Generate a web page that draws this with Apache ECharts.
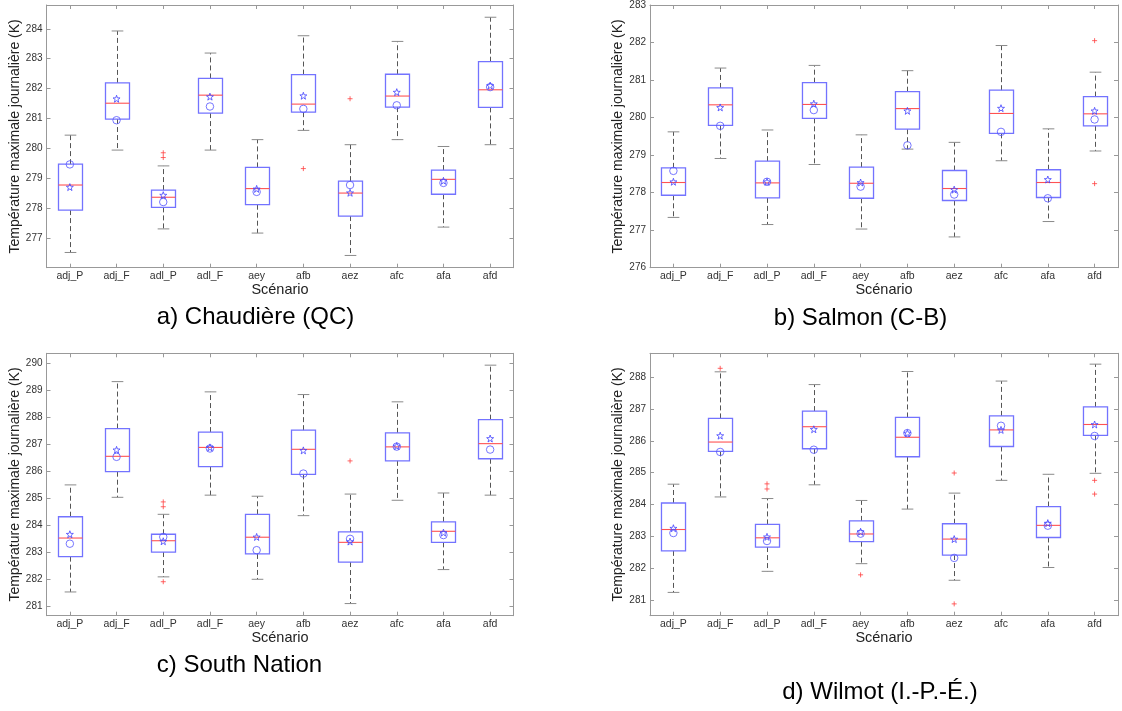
<!DOCTYPE html>
<html><head><meta charset="utf-8">
<script src="https://cdn.jsdelivr.net/npm/echarts@6/dist/echarts.min.js"></script>
<style>html,body{margin:0;padding:0;background:#fff}#c{width:1122px;height:711px}</style>
</head><body><div id="c"></div><script>
// ---------- DATA ----------
const categories = ['adj_P','adj_F','adl_P','adl_F','aey','afb','aez','afc','afa','afd'];

// [lower whisker, Q1, median, Q3, upper whisker]
const chaudiereBox = [
  [276.51, 277.93, 278.77, 279.47, 280.44],
  [279.94, 280.98, 281.51, 282.19, 283.93],
  [277.30, 278.02, 278.36, 278.60, 279.41],
  [279.94, 281.18, 281.78, 282.34, 283.19],
  [277.16, 278.11, 278.65, 279.36, 280.29],
  [280.60, 281.21, 281.48, 282.47, 283.77],
  [276.41, 277.73, 278.50, 278.90, 280.12],
  [280.29, 281.38, 281.75, 282.48, 283.58],
  [277.36, 278.46, 278.96, 279.27, 280.06],
  [280.12, 281.37, 281.96, 282.90, 284.39]
];
const chaudiereStar = [278.70, 281.66, 278.43, 281.73, 278.64, 281.76, 278.51, 281.88, 278.91, 282.10];
const chaudiereCircle = [279.46, 280.94, 278.20, 281.40, 278.54, 281.32, 278.77, 281.44, 278.84, 282.05];
const chaudiereOutliers = [[2, 279.69], [2, 279.85], [5, 279.32], [6, 281.66]];
const chaudiereTicks = [277, 278, 279, 280, 281, 282, 283, 284];

const salmonBox = [
  [277.34, 277.93, 278.27, 278.66, 279.62],
  [278.91, 279.79, 280.34, 280.79, 281.32],
  [277.15, 277.86, 278.26, 278.84, 279.67],
  [278.75, 279.98, 280.35, 280.93, 281.39],
  [277.03, 277.85, 278.25, 278.68, 279.54],
  [279.16, 279.69, 280.24, 280.69, 281.25],
  [276.82, 277.79, 278.11, 278.59, 279.34],
  [278.85, 279.58, 280.11, 280.73, 281.92],
  [277.23, 277.87, 278.27, 278.61, 279.70],
  [279.11, 279.78, 280.10, 280.56, 281.21]
];
const salmonStar = [278.29, 280.27, 278.29, 280.37, 278.27, 280.18, 278.08, 280.25, 278.35, 280.18];
const salmonCircle = [278.58, 279.78, 278.29, 280.20, 278.16, 279.26, 277.95, 279.62, 277.85, 279.95];
const salmonOutliers = [[9, 282.05], [9, 278.24]];
const salmonTicks = [276, 277, 278, 279, 280, 281, 282, 283];

const southNationBox = [
  [281.52, 282.83, 283.52, 284.31, 285.49],
  [285.03, 285.98, 286.55, 287.58, 289.32],
  [282.08, 283.00, 283.42, 283.66, 284.40],
  [285.11, 286.17, 286.88, 287.45, 288.94],
  [281.99, 282.93, 283.55, 284.40, 285.07],
  [284.35, 285.88, 286.81, 287.52, 288.84],
  [281.09, 282.63, 283.36, 283.75, 285.15],
  [284.92, 286.38, 286.90, 287.42, 288.57],
  [282.35, 283.36, 283.77, 284.12, 285.19],
  [285.11, 286.46, 287.02, 287.91, 289.93]
];
const southNationStar = [283.66, 286.79, 283.40, 286.88, 283.56, 286.77, 283.39, 286.93, 283.72, 287.21];
const southNationCircle = [283.31, 286.53, 283.56, 286.84, 283.07, 285.91, 283.49, 286.91, 283.63, 286.80];
const southNationOutliers = [[2, 284.86], [2, 284.68], [2, 281.90], [6, 286.38]];
const southNationTicks = [281, 282, 283, 284, 285, 286, 287, 288, 289, 290];

const wilmotBox = [
  [281.25, 282.55, 283.22, 284.05, 284.64],
  [284.24, 285.67, 285.96, 286.70, 288.16],
  [281.91, 282.67, 282.96, 283.38, 284.19],
  [284.62, 285.75, 286.44, 286.93, 287.76],
  [282.15, 282.84, 283.08, 283.49, 284.13],
  [283.86, 285.50, 286.11, 286.73, 288.17],
  [281.63, 282.42, 282.92, 283.40, 284.36],
  [284.76, 285.82, 286.34, 286.78, 287.87],
  [282.03, 282.97, 283.35, 283.94, 284.95],
  [284.98, 286.17, 286.51, 287.06, 288.40]
];
const wilmotStar = [283.26, 286.16, 282.99, 286.36, 283.15, 286.24, 282.92, 286.34, 283.42, 286.51];
const wilmotCircle = [283.11, 285.65, 282.86, 285.72, 283.09, 286.24, 282.33, 286.47, 283.34, 286.15];
const wilmotOutliers = [[1, 288.27], [2, 284.65], [2, 284.49], [4, 281.80], [6, 284.99], [6, 280.89], [9, 284.76], [9, 284.33]];
const wilmotTicks = [281, 282, 283, 284, 285, 286, 287, 288];

const captions = ['a) Chaudière (QC)', 'b) Salmon (C-B)', 'c) South Nation', 'd) Wilmot (I.-P.-É.)'];
const yAxisTitle = 'Température maximale journalière (K)';
const xAxisTitle = 'Scénario';

// ---------- LAYOUT ----------
const FONT = '"Liberation Sans", Arial, sans-serif';
const panels = [
  {box: chaudiereBox, star: chaudiereStar, circle: chaudiereCircle, out: chaudiereOutliers, ticks: chaudiereTicks,
   ymin: 276.0, ymax: 284.8, left: 46.5, top: 5, width: 467, height: 262.7, cap: [255.5, 317]},
  {box: salmonBox, star: salmonStar, circle: salmonCircle, out: salmonOutliers, ticks: salmonTicks,
   ymin: 276, ymax: 283, left: 650, top: 5, width: 468, height: 262.7, cap: [860.5, 318]},
  {box: southNationBox, star: southNationStar, circle: southNationCircle, out: southNationOutliers, ticks: southNationTicks,
   ymin: 280.64, ymax: 290.37, left: 46.5, top: 353.3, width: 467, height: 262.4, cap: [239.5, 665.5]},
  {box: wilmotBox, star: wilmotStar, circle: wilmotCircle, out: wilmotOutliers, ticks: wilmotTicks,
   ymin: 280.52, ymax: 288.74, left: 650, top: 353.3, width: 468, height: 262.4, cap: [880, 692]}
];

const AXIS_COLOR = '#999999';
const STAR = 'path://M10 0 L12.35 6.76 L19.51 6.91 L13.80 11.24 L15.88 18.09 L10 14 L4.12 18.09 L6.20 11.24 L0.49 6.91 L7.65 6.76 Z';
const PLUS = 'path://M5 0 L5 10 M0 5 L10 5';

function renderBox(params, api) {
  const x = api.value(0);
  const lo = api.coord([x, api.value(1)]);
  const q1 = api.coord([x, api.value(2)]);
  const md = api.coord([x, api.value(3)]);
  const q3 = api.coord([x, api.value(4)]);
  const hi = api.coord([x, api.value(5)]);
  const bw = api.size([1, 0])[0];
  const half = bw * 0.257;
  const capH = bw * 0.125;
  const cx = Math.round(lo[0]) + 0.5;
  const dash = {stroke: '#555', lineWidth: 1, lineDash: [5, 3]};
  const capS = {stroke: '#8a8a8a', lineWidth: 1};
  return {
    type: 'group',
    children: [
      {type: 'line', shape: {x1: cx, y1: q3[1], x2: cx, y2: hi[1]}, style: dash},
      {type: 'line', shape: {x1: cx, y1: q1[1], x2: cx, y2: lo[1]}, style: dash},
      {type: 'line', shape: {x1: cx - capH, y1: hi[1], x2: cx + capH, y2: hi[1]}, style: capS},
      {type: 'line', shape: {x1: cx - capH, y1: lo[1], x2: cx + capH, y2: lo[1]}, style: capS},
      {type: 'rect', shape: {x: cx - half, y: q3[1], width: 2 * half, height: q1[1] - q3[1]},
       style: {fill: 'rgba(0,0,0,0)', stroke: '#7373ff', lineWidth: 1.3}},
      {type: 'line', shape: {x1: cx - half, y1: md[1], x2: cx + half, y2: md[1]},
       style: {stroke: '#ff5252', lineWidth: 1.1}}
    ]
  };
}

const grid = [], xAxis = [], yAxis = [], series = [], graphic = [];
panels.forEach((p, i) => {
  grid.push({left: p.left, top: p.top, width: p.width, height: p.height, containLabel: false});
  const tickBase = {show: true, inside: true, length: 4, lineStyle: {color: AXIS_COLOR}};
  const lineBase = {show: true, onZero: false, lineStyle: {color: AXIS_COLOR, width: 1}};
  xAxis.push({
    type: 'category', gridIndex: i, data: categories, boundaryGap: true, position: 'bottom',
    axisLine: lineBase, axisTick: Object.assign({alignWithLabel: true}, tickBase),
    axisLabel: {color: '#333', fontSize: 10.5, fontFamily: FONT, margin: 3, interval: 0},
    splitLine: {show: false},
    name: xAxisTitle, nameLocation: 'middle', nameGap: 13,
    nameTextStyle: {color: '#222', fontSize: 14.5, fontFamily: FONT, verticalAlign: 'top'}
  });
  xAxis.push({
    type: 'category', gridIndex: i, data: categories, boundaryGap: true, position: 'top',
    axisLine: lineBase, axisTick: Object.assign({alignWithLabel: true}, tickBase),
    axisLabel: {show: false}, splitLine: {show: false}
  });
  yAxis.push({
    type: 'value', gridIndex: i, min: p.ymin, max: p.ymax, position: 'left',
    axisLine: lineBase,
    axisTick: Object.assign({customValues: p.ticks}, tickBase),
    axisLabel: {customValues: p.ticks, color: '#333', fontSize: 10, fontFamily: FONT, margin: 4},
    splitLine: {show: false},
    name: yAxisTitle, nameLocation: 'middle', nameGap: 23, nameRotate: 90,
    nameTextStyle: {color: '#222', fontSize: 14, fontFamily: FONT}
  });
  yAxis.push({
    type: 'value', gridIndex: i, min: p.ymin, max: p.ymax, position: 'right',
    axisLine: lineBase,
    axisTick: Object.assign({customValues: p.ticks}, tickBase),
    axisLabel: {show: false}, splitLine: {show: false}
  });
  series.push({
    type: 'custom', xAxisIndex: 2 * i, yAxisIndex: 2 * i,
    data: p.box.map((b, k) => [k].concat(b)),
    encode: {x: 0, y: [1, 2, 3, 4, 5]},
    renderItem: renderBox, silent: true, z: 2
  });
  series.push({
    type: 'scatter', xAxisIndex: 2 * i, yAxisIndex: 2 * i,
    data: p.circle.map((v, k) => [k, v]),
    symbol: 'circle', symbolSize: 7.5,
    itemStyle: {color: 'rgba(0,0,0,0)', borderColor: '#5555ff', borderWidth: 1}, z: 3
  });
  series.push({
    type: 'scatter', xAxisIndex: 2 * i, yAxisIndex: 2 * i,
    data: p.star.map((v, k) => [k, v]),
    symbol: STAR, symbolSize: 7,
    itemStyle: {color: 'rgba(0,0,0,0)', borderColor: '#4444ff', borderWidth: 1}, z: 4
  });
  series.push({
    type: 'scatter', xAxisIndex: 2 * i, yAxisIndex: 2 * i,
    data: p.out,
    symbol: PLUS, symbolSize: 5,
    itemStyle: {color: 'rgba(0,0,0,0)', borderColor: '#ff4040', borderWidth: 1}, z: 4
  });
  graphic.push({
    type: 'text', x: p.cap[0], y: p.cap[1],
    style: {text: captions[i], fontSize: 24, fontFamily: FONT, fill: '#000', align: 'center', verticalAlign: 'middle'}
  });
});

const chart = echarts.init(document.getElementById('c'), null, {renderer: 'canvas'});
chart.setOption({
  animation: false,
  backgroundColor: '#fff',
  grid, xAxis, yAxis, series, graphic
});
</script></body></html>
